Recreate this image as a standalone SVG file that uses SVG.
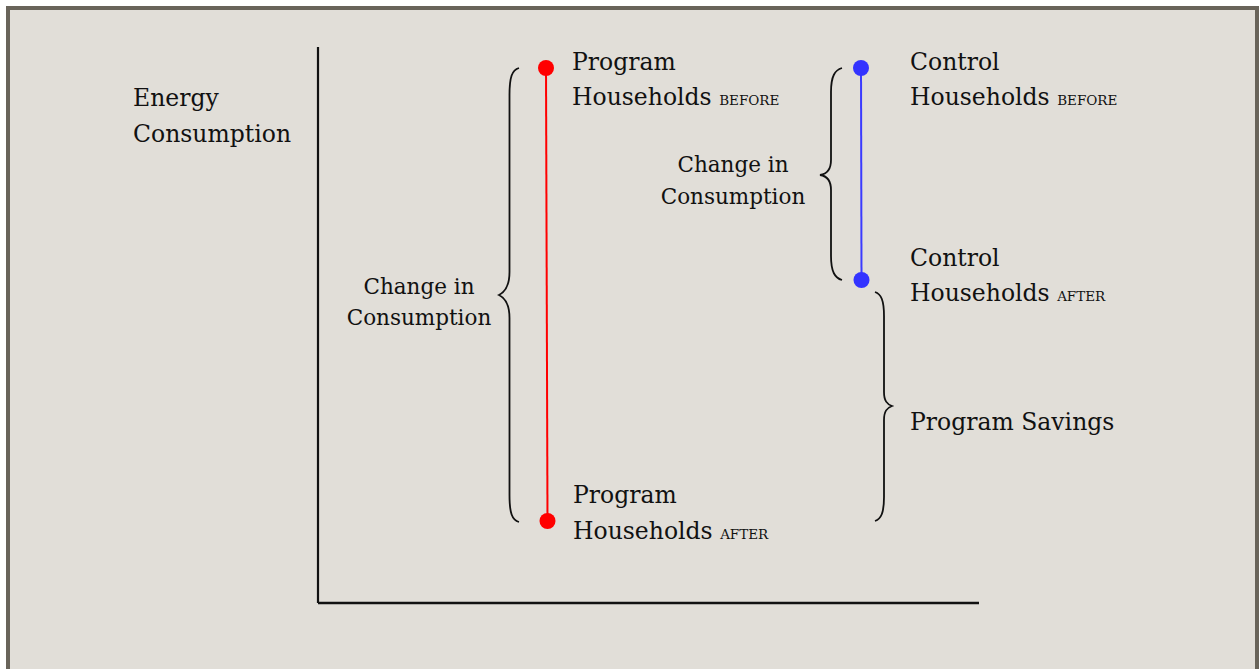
<svg xmlns="http://www.w3.org/2000/svg" width="1259" height="669" viewBox="0 0 1259 669">
<style>
.t{font-family:"DejaVu Serif","Liberation Serif",serif;font-size:23.5px;fill:#111}
.s{font-family:"DejaVu Serif","Liberation Serif",serif;font-size:21.5px;fill:#111}
.sc{font-size:13.5px}
.br{fill:none;stroke:#111;stroke-width:1.8}
.ax{stroke:#111;fill:none}
</style>
<rect x="0" y="0" width="1259" height="669" fill="#ffffff"/>
<rect x="8" y="8" width="1249" height="666" fill="#E1DED8" stroke="#69645A" stroke-width="4"/>
<g id="axes">
<line class="ax" x1="318" y1="47" x2="318" y2="603" stroke-width="2.2"/>
<line class="ax" x1="318" y1="603" x2="979" y2="603" stroke-width="2.5"/>
</g>
<g id="axis-label"><text class="t" x="133" y="106">Energy</text><text class="t" x="133" y="142">Consumption</text></g>
<g id="connectors">
<line x1="546" y1="68" x2="547.5" y2="521" stroke="#FF0000" stroke-width="2"/>
<line x1="861" y1="68" x2="861.5" y2="280" stroke="#3B3BFF" stroke-width="2"/>
<path class="br" d="M519,68 C512,70 509.5,77 509.5,95 L509.5,272 C509.5,286 505,292 499,295 C505,298 509.5,304 509.5,318 L509.5,495 C509.5,513 512,520 519,522"/>
<path class="br" d="M842,68 C835,70 831,76 831,92 L831,160 C831,169 827,174 820,175 C827,176 831,181 831,190 L831,256 C831,272 835,278 842,280"/>
<path class="br" d="M875,292 C881,294 884,300 884,316 L884,392 C884,401 887,404 892,406 C887,408 884,411 884,420 L884,497 C884,513 881,519 875,521"/>
</g>
<g id="program-before"><circle cx="546" cy="68" r="8" fill="#FF0000"/><text class="t" x="572" y="70">Program</text><text class="t" x="572" y="105">Households <tspan class="sc">BEFORE</tspan></text></g>
<g id="program-after"><circle cx="547.5" cy="521" r="8" fill="#FF0000"/><text class="t" x="573" y="503">Program</text><text class="t" x="573" y="539">Households <tspan class="sc">AFTER</tspan></text></g>
<g id="control-before"><circle cx="861" cy="68" r="8" fill="#3333FF"/><text class="t" x="910" y="70">Control</text><text class="t" x="910" y="105">Households <tspan class="sc">BEFORE</tspan></text></g>
<g id="control-after"><circle cx="861.5" cy="280" r="8" fill="#3333FF"/><text class="t" x="910" y="266">Control</text><text class="t" x="910" y="301">Households <tspan class="sc">AFTER</tspan></text></g>
<g id="program-change"><text class="s" text-anchor="middle" x="419" y="294">Change in</text><text class="s" text-anchor="middle" x="419" y="325">Consumption</text></g>
<g id="control-change"><text class="s" text-anchor="middle" x="733" y="172">Change in</text><text class="s" text-anchor="middle" x="733" y="204">Consumption</text></g>
<g id="savings"><text class="t" x="910" y="430">Program Savings</text></g>
</svg>
